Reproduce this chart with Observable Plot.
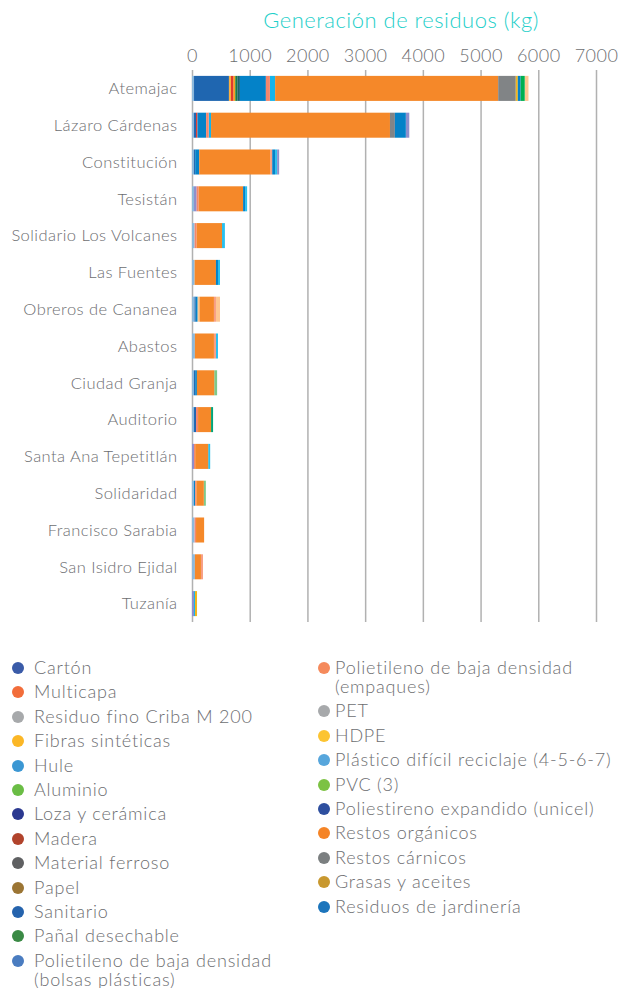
<!DOCTYPE html>
<html>
<head>
<meta charset="utf-8">
<script src="https://cdn.jsdelivr.net/npm/d3@7"></script>
<script src="https://cdn.jsdelivr.net/npm/@observablehq/plot@0.6"></script>
<style>
  html, body { margin: 0; padding: 0; background: #fff; }
  #wrap { position: relative; width: 619px; height: 988px; overflow: hidden; font-family: Lato, "Open Sans", sans-serif; }
  #title { position: absolute; left: 183px; width: 436px; top: 6px; text-align: center; color: #1fcfca; font-size: 22px; letter-spacing: 0.5px; font-weight: 300; }
  #chart { position: absolute; left: 0; top: 0; }
  .legcol { position: absolute; top: 658px; }
  .item { position: relative; margin-bottom: 5.4px; font-size: 18px; letter-spacing: 0.8px; line-height: 19px; color: #6d6e71; font-weight: 300; }
  .item .dot { position: absolute; width: 12px; height: 12px; border-radius: 50%; top: 4px; }
</style>
</head>
<body>
<div id="wrap">
  <div id="chart"></div>
  <div id="title">Generación de residuos (kg)</div>
  <div id="legL" class="legcol" style="left:12px; width:300px;"></div>
  <div id="legR" class="legcol" style="left:318px; width:301px;"></div>
</div>
<script>
const stations = [
  "Atemajac", "Lázaro Cárdenas", "Constitución", "Tesistán", "Solidario Los Volcanes",
  "Las Fuentes", "Obreros de Cananea", "Abastos", "Ciudad Granja", "Auditorio",
  "Santa Ana Tepetitlán", "Solidaridad", "Francisco Sarabia", "San Isidro Ejidal", "Tuzanía"
];

const categories = [
  "Cartón", "Multicapa", "Residuo fino Criba M 200", "Fibras sintéticas", "Hule",
  "Aluminio", "Loza y cerámica", "Madera", "Material ferroso", "Papel",
  "Sanitario", "Pañal desechable", "Polietileno de baja densidad (bolsas plásticas)",
  "Polietileno de baja densidad (empaques)", "PET", "HDPE",
  "Plástico difícil reciclaje (4-5-6-7)", "PVC (3)", "Poliestireno expandido (unicel)",
  "Restos orgánicos", "Restos cárnicos", "Grasas y aceites", "Residuos de jardinería"
];

// colours of the bar segments (categories order)
const barColors = [
  "#1f66b0", "#fbb040", "#8db9dc", "#f7a21b", "#fdc98f",
  "#1e7b3f", "#1a6470", "#e03a2e", "#8e8fcc", "#0482c8",
  "#fec893", "#29c0ef", "#15b4ea",
  "#f4866c", "#00b050", "#00a57a",
  "#f79e84", "#7fc98b", "#8e8fcc",
  "#f58829", "#818486", "#f2b51c", "#0482c8"
];

// colours of the legend dots (categories order)
const legendColors = [
  "#3a5ba8", "#f26d3a", "#a7a9ab", "#fbb726", "#3b97d3",
  "#6abd45", "#2b3990", "#b1432c", "#5f6062", "#9b7534",
  "#2563ad", "#3a8a45", "#4a7cc0",
  "#f58a5c", "#a7a9ab", "#fcc432",
  "#57a6dc", "#7cc243", "#2e4f9f",
  "#f58426", "#7b7f80", "#c8982f", "#1c75bc"
];

// stacking order of the segments, left to right
const stackOrder = [
  "Residuo fino Criba M 200", "Cartón", "Multicapa", "Madera", "Fibras sintéticas",
  "Aluminio", "Loza y cerámica", "Papel", "Material ferroso",
  "Polietileno de baja densidad (empaques)", "Polietileno de baja densidad (bolsas plásticas)",
  "Hule", "Restos orgánicos", "Plástico difícil reciclaje (4-5-6-7)", "Restos cárnicos",
  "Grasas y aceites", "Residuos de jardinería", "Pañal desechable", "PET", "PVC (3)",
  "HDPE", "Poliestireno expandido (unicel)", "Sanitario"
];

// kg per station (rows) and category (columns, categories order)
const values = [
  [605,35,35,35,0,35,45,40,0,450,65,0,90,70,75,0,0,0,0,3865,305,35,45],
  [35,0,35,0,0,0,0,25,0,150,0,0,40,45,0,0,0,0,60,3100,85,0,190],
  [20,0,35,0,0,0,0,0,0,70,0,35,0,0,0,0,35,0,35,1230,0,0,50],
  [0,0,35,0,0,0,0,0,45,0,0,35,0,35,0,0,0,0,0,770,0,0,35],
  [0,0,45,0,0,0,0,0,0,0,0,50,0,35,0,0,0,0,0,440,0,0,0],
  [0,0,45,0,0,0,0,0,0,0,0,35,0,0,0,0,0,0,0,370,0,0,35],
  [25,0,40,0,35,0,0,0,0,30,70,0,0,0,0,0,35,0,0,250,0,0,0],
  [0,0,50,0,0,0,0,0,0,0,0,35,0,0,0,0,35,0,0,330,0,0,0],
  [20,0,35,0,0,0,0,0,0,30,0,0,0,0,0,0,0,50,0,300,0,0,0],
  [35,0,35,0,0,0,0,0,0,0,0,0,0,35,0,35,0,0,0,225,0,0,0],
  [0,0,0,0,0,0,0,0,35,0,0,35,0,20,0,0,0,0,0,225,0,0,0],
  [0,0,35,0,0,0,0,0,0,20,0,0,0,20,0,0,0,35,0,130,0,0,0],
  [0,0,45,0,0,0,0,0,0,0,0,0,0,25,0,0,0,0,0,140,0,0,0],
  [0,0,50,0,0,0,0,0,0,0,0,0,0,0,0,0,35,0,0,105,0,0,0],
  [0,0,0,0,0,0,0,0,35,0,0,0,17,0,0,0,0,0,0,0,0,35,0]
];

const xTicks = [0, 1000, 2000, 3000, 4000, 5000, 6000, 7000];

const legendLeft = categories.slice(0, 13);
const legendRight = categories.slice(13);

const data = stations.flatMap((s, i) =>
  categories.map((c, j) => ({station: s, category: c, value: values[i][j]}))
).filter(d => d.value > 0);

const chart = Plot.plot({
  width: 619,
  height: 622,
  marginLeft: 192,
  marginRight: 23,
  marginTop: 70,
  marginBottom: 0,
  style: {fontFamily: "Lato, 'Open Sans', sans-serif", color: "#6d6e71", background: "white"},
  x: {domain: [0, 7000]},
  y: {domain: stations, paddingInner: 0.32, paddingOuter: 0.16, round: false},
  color: {domain: categories, range: barColors},
  marks: [
    Plot.gridX(xTicks, {stroke: "#b1b1b1", strokeOpacity: 1, strokeWidth: 1.5}),
    Plot.barX(data, {x: "value", y: "station", fill: "category", order: stackOrder}),
    Plot.axisX(xTicks, {anchor: "top", tickSize: 0, tickPadding: 9, tickFormat: d => String(d), fontSize: 18, fontWeight: 300, label: null}),
    Plot.axisY({tickSize: 0, tickPadding: 15, fontSize: 16.5, fontWeight: 300, label: null})
  ]
});
chart.querySelectorAll("g[aria-label='x-axis tick label'] text").forEach(t => t.style.letterSpacing = "0.5px");
chart.querySelectorAll("g[aria-label='y-axis tick label'] text").forEach(t => t.style.letterSpacing = "0.45px");
document.getElementById("chart").appendChild(chart);

function buildLegend(el, names, pad) {
  for (const name of names) {
    const idx = categories.indexOf(name);
    const item = document.createElement("div");
    item.className = "item";
    item.style.paddingLeft = pad + "px";
    const dot = document.createElement("span");
    dot.className = "dot";
    dot.style.background = legendColors[idx];
    dot.style.left = "0px";
    const txt = document.createElement("span");
    txt.textContent = name;
    item.appendChild(dot);
    item.appendChild(txt);
    el.appendChild(item);
  }
}
buildLegend(document.getElementById("legL"), legendLeft, 22);
buildLegend(document.getElementById("legR"), legendRight, 17);
</script>
</body>
</html>
